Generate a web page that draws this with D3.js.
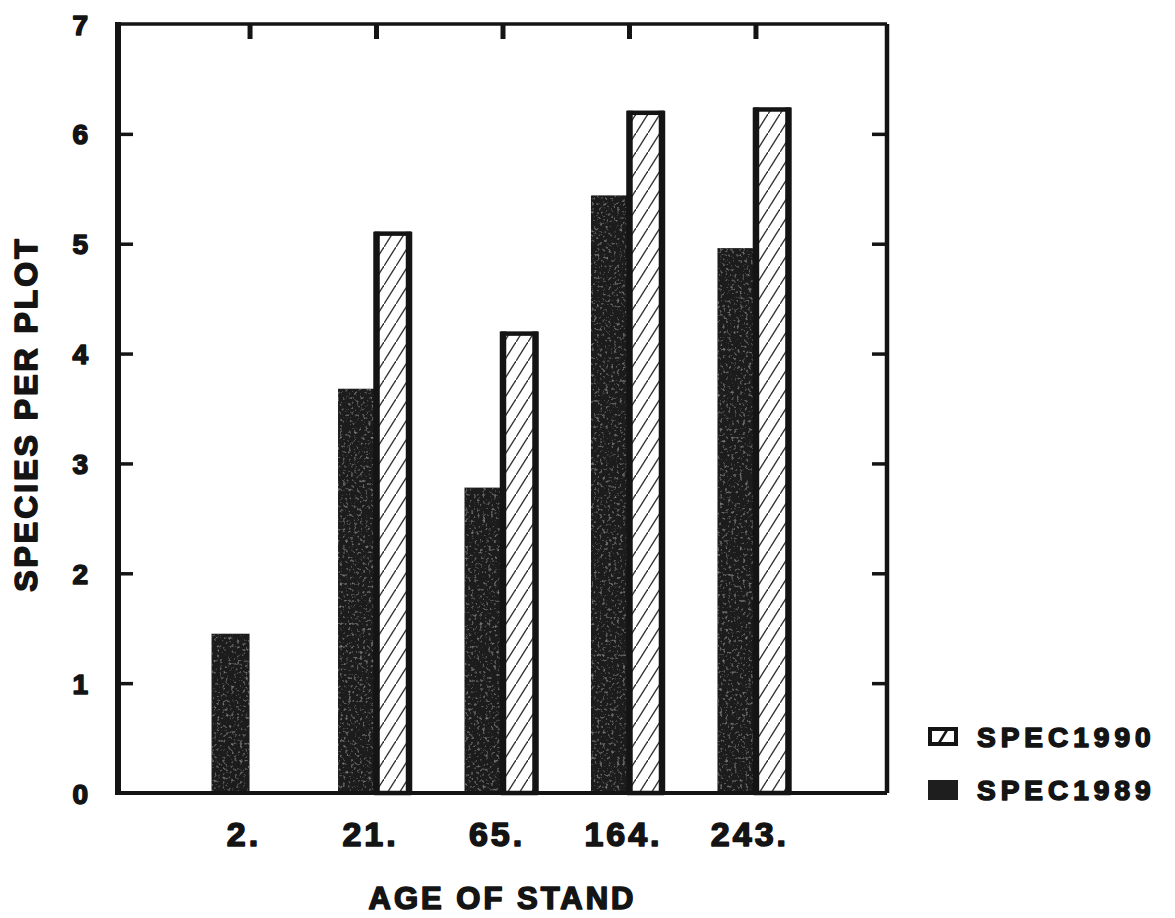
<!DOCTYPE html>
<html>
<head>
<meta charset="utf-8">
<script src="https://cdn.jsdelivr.net/npm/d3@7"></script>
<style>
  html, body { margin: 0; padding: 0; background: #fff; }
  text { font-family: "Liberation Sans", Arial, sans-serif; font-weight: bold; fill: #141414;
         stroke: #141414; stroke-width: 1.6px; stroke-linejoin: round; paint-order: stroke; }
</style>
</head>
<body>
<svg id="chart"></svg>
<script>
// species per plot by stand age, two survey years
const categories = ['2.', '21.', '65.', '164.', '243.'];
const spec1989 = [1.45, 3.68, 2.78, 5.44, 4.96];
const spec1990 = [null, 5.11, 4.20, 6.21, 6.24];
const yTicks = [0, 1, 2, 3, 4, 5, 6, 7];
const seriesNames = ['SPEC1990', 'SPEC1989'];

const W = 1175, H = 918;
const frame = { left: 118, right: 887, top: 24, bottom: 793 };
const ink = '#141414';

const svg = d3.select('#chart').attr('width', W).attr('height', H);

const x = d3.scalePoint().domain(categories).range([frame.left, frame.right]).padding(1.04);
const y = d3.scaleLinear().domain([0, 7]).range([frame.bottom, frame.top]);

// hatch + speckle defs
const defs = svg.append('defs');
const hatch = defs.append('pattern').attr('id', 'hatch')
  .attr('patternUnits', 'userSpaceOnUse').attr('width', 12).attr('height', 19);
hatch.append('rect').attr('width', 12).attr('height', 19).attr('fill', '#fff');
hatch.append('path').attr('d', 'M-3,23.75 L15,-4.75').attr('stroke', '#333').attr('stroke-width', 1.4);

const grain = defs.append('filter').attr('id', 'grain').attr('x', 0).attr('y', 0).attr('width', 1).attr('height', 1);
grain.append('feTurbulence').attr('type', 'fractalNoise').attr('baseFrequency', 0.35).attr('numOctaves', 2).attr('seed', 4).attr('result', 'noise');
grain.append('feColorMatrix').attr('in', 'noise').attr('type', 'matrix')
  .attr('values', '0 0 0 0 0.3  0 0 0 0 0.3  0 0 0 0 0.3  0 0 0 2.2 -1.25').attr('result', 'spots');
grain.append('feComposite').attr('in', 'spots').attr('in2', 'SourceGraphic').attr('operator', 'in').attr('result', 'clipped');
grain.append('feMerge').call(m => { m.append('feMergeNode').attr('in', 'SourceGraphic'); m.append('feMergeNode').attr('in', 'clipped'); });

const barW = 38;

// SPEC1989 dark bars
svg.append('g').selectAll('rect').data(categories).join('rect')
  .attr('x', d => x(d) - barW)
  .attr('y', (d, i) => y(spec1989[i]))
  .attr('width', barW)
  .attr('height', (d, i) => y(0) - y(spec1989[i]))
  .attr('fill', '#1c1c1c')
  .attr('filter', 'url(#grain)');

// SPEC1990 hatched bars: thin top edge, heavy sides
const hatched = categories.map((c, i) => ({ c, v: spec1990[i] })).filter(d => d.v != null);
const hb = svg.append('g').selectAll('g').data(hatched).join('g');
hb.append('rect')
  .attr('x', d => x(d.c) + 0.5)
  .attr('y', d => y(d.v) + 2)
  .attr('width', 32.5)
  .attr('height', d => y(0) - y(d.v) - 2)
  .attr('fill', 'url(#hatch)')
  .attr('stroke', ink)
  .attr('stroke-width', 4.5);
hb.append('path')
  .attr('d', d => `M${x(d.c) + 0.5},${y(0)}V${y(d.v)}M${x(d.c) + 33},${y(0)}V${y(d.v)}`)
  .attr('stroke', ink).attr('stroke-width', 6.5).attr('fill', 'none');

// frame
const fr = svg.append('g').attr('fill', 'none').attr('stroke', ink);
fr.append('line').attr('x1', frame.left).attr('x2', frame.left).attr('y1', frame.top - 2).attr('y2', frame.bottom + 2).attr('stroke-width', 6);
fr.append('line').attr('x1', frame.left).attr('x2', frame.right).attr('y1', frame.top).attr('y2', frame.top).attr('stroke-width', 3.5);
fr.append('line').attr('x1', frame.right).attr('x2', frame.right).attr('y1', frame.top).attr('y2', frame.bottom).attr('stroke-width', 4.5);
fr.append('line').attr('x1', frame.left).attr('x2', frame.right).attr('y1', frame.bottom).attr('y2', frame.bottom).attr('stroke-width', 4);

// y axis: inward ticks, left and right
const yAxis = d3.axisLeft(y).tickValues(yTicks).tickSize(-15).tickPadding(30).tickFormat(d3.format('d'));
const gy = svg.append('g').attr('transform', `translate(${frame.left},0)`).call(yAxis);
gy.select('.domain').remove();
gy.selectAll('.tick line').attr('stroke', ink).attr('stroke-width', 3.5)
  .attr('display', d => (d === 0 || d === 7) ? 'none' : null);
gy.selectAll('.tick text').attr('font-size', 28).attr('font-family', null).attr('fill', ink).attr('dy', '0.36em');

const gyr = svg.append('g').attr('transform', `translate(${frame.right},0)`)
  .call(d3.axisRight(y).tickValues(yTicks.filter(d => d > 0 && d < 7)).tickSize(-15).tickFormat(''));
gyr.select('.domain').remove();
gyr.selectAll('.tick line').attr('stroke', ink).attr('stroke-width', 3.5);

// x axis: labels below, ticks hanging from the top edge
const gx = svg.append('g').attr('transform', `translate(0,${frame.bottom})`)
  .call(d3.axisBottom(x).tickSize(0).tickPadding(29));
gx.select('.domain').remove();
gx.selectAll('.tick text').attr('font-size', 34).attr('font-family', null).attr('fill', ink)
  .attr('letter-spacing', 3).attr('dx', -6);

const gxt = svg.append('g').attr('transform', `translate(0,${frame.top})`)
  .call(d3.axisTop(x).tickSize(-15).tickFormat(''));
gxt.select('.domain').remove();
gxt.selectAll('.tick line').attr('stroke', ink).attr('stroke-width', 5);

// axis titles
svg.append('text').attr('x', (frame.left + frame.right) / 2).attr('y', 909)
  .attr('text-anchor', 'middle').attr('font-size', 31).attr('letter-spacing', 3)
  .text('AGE OF STAND');
svg.append('text').attr('transform', `translate(37,${414}) rotate(-90)`)
  .attr('text-anchor', 'middle').attr('font-size', 32).attr('letter-spacing', 3)
  .text('SPECIES PER PLOT');

// legend
const leg = svg.append('g').attr('transform', 'translate(928,727)');
const rowH = 53;
seriesNames.forEach((name, i) => {
  const row = leg.append('g').attr('transform', `translate(0,${i * rowH})`);
  if (name === 'SPEC1990') {
    row.append('rect').attr('x', 2).attr('y', 2).attr('width', 26).attr('height', 15)
      .attr('fill', '#fff').attr('stroke', ink).attr('stroke-width', 4);
    row.append('path').attr('d', 'M11,16 L19,3').attr('stroke', ink).attr('stroke-width', 2.5);
  } else {
    row.append('rect').attr('x', 0).attr('y', 0).attr('width', 30).attr('height', 20).attr('fill', '#1e1e1e');
  }
  row.append('text').attr('x', 49).attr('y', 20).attr('font-size', 28).attr('letter-spacing', 5)
    .text(name);
});
</script>
</body>
</html>
